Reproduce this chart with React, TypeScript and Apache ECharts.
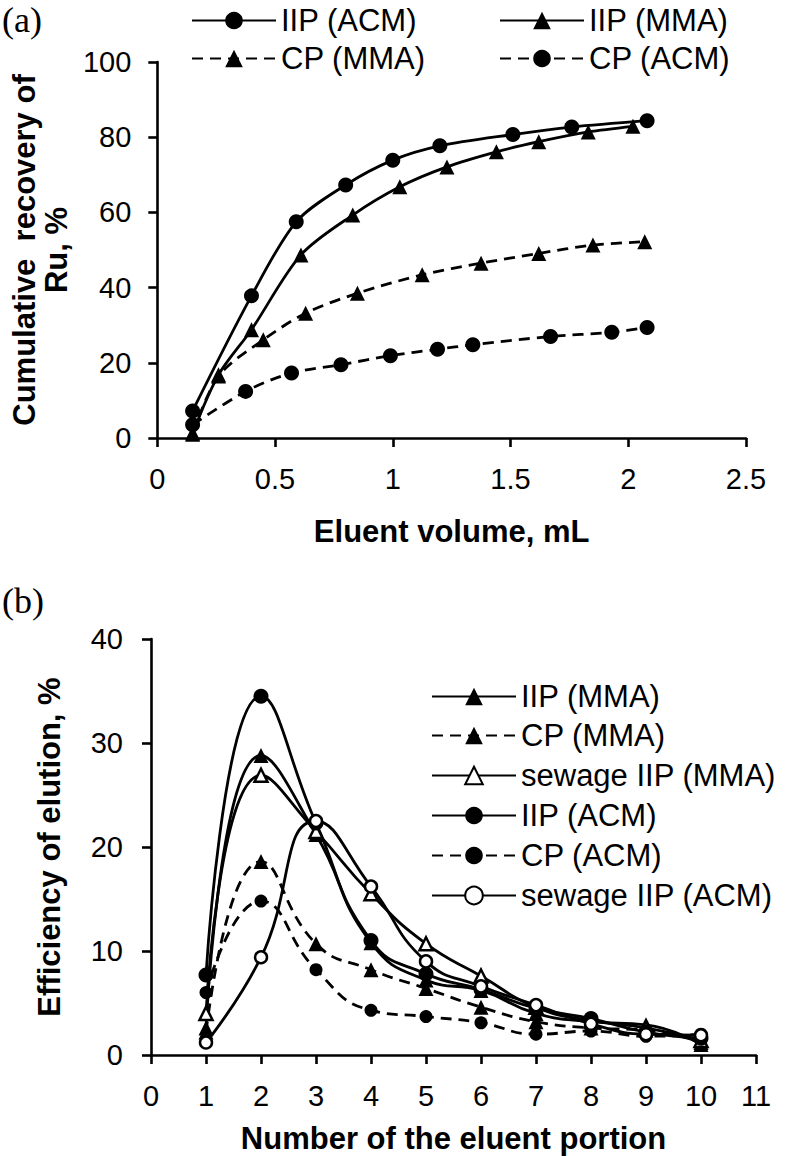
import React, { useEffect, useRef } from "react";
import * as echarts from "echarts";

// ---- Panel (a): cumulative recovery of Ru vs eluent volume ----
const volIIPACM = [0.15, 0.4, 0.59, 0.8, 1.0, 1.2, 1.51, 1.76, 2.08];
const recIIPACM = [7.2, 37.8, 57.5, 67.3, 73.9, 77.7, 80.7, 82.7, 84.4];
const volIIPMMA = [0.15, 0.26, 0.4, 0.61, 0.83, 1.03, 1.23, 1.44, 1.62, 1.83, 2.02];
const recIIPMMA = [1.3, 16.8, 28.8, 48.7, 59.3, 66.8, 72.1, 76.1, 78.8, 81.4, 82.9];
const volCPMMA = [0.15, 0.26, 0.45, 0.63, 0.85, 1.125, 1.375, 1.62, 1.85, 2.07];
const recCPMMA = [1.0, 16.5, 26.1, 33.2, 38.5, 43.4, 46.5, 49.1, 51.3, 52.2];
const volCPACM = [0.15, 0.375, 0.57, 0.78, 0.99, 1.19, 1.34, 1.67, 1.93, 2.08];
const recCPACM = [3.5, 12.4, 17.3, 19.5, 21.9, 23.6, 24.8, 27.0, 28.1, 29.4];

// ---- Panel (b): efficiency of elution vs eluent portion ----
const portions = [1, 2, 3, 4, 5, 6, 7, 8, 9, 10];
const effIIPMMA = [2.6, 28.8, 21.2, 10.8, 7.2, 6.2, 4.0, 3.2, 2.9, 1.0];
const effCPMMA = [2.2, 18.6, 10.7, 8.2, 6.4, 4.6, 3.2, 2.6, 2.4, 1.2];
const effSewIIPMMA = [4.0, 26.9, 21.5, 15.5, 10.7, 7.6, 4.6, 3.3, 2.6, 1.4];
const effIIPACM = [7.7, 34.5, 22.3, 11.0, 7.8, 6.3, 4.5, 3.5, 2.2, 1.6];
const effCPACM = [6.0, 14.8, 8.2, 4.3, 3.7, 3.1, 2.0, 2.3, 1.8, 2.0];
const effSewIIPACM = [1.2, 9.4, 22.5, 16.2, 9.0, 6.6, 4.8, 3.0, 2.0, 1.9];

const xTicksA = [0, 0.5, 1, 1.5, 2, 2.5];
const yTicksA = [0, 20, 40, 60, 80, 100];
const xTicksB = [0, 1, 2, 3, 4, 5, 6, 7, 8, 9, 10, 11];
const yTicksB = [0, 10, 20, 30, 40];

const FONT = "'Liberation Sans', Arial, Helvetica, sans-serif";
const DASH = [11, 7];
const LW = 2.8;

const zip = (xs: number[], ys: number[]) => xs.map((x, i) => [x, ys[i]]);

function axisBase() {
  return {
    axisLine: { show: true, onZero: false, lineStyle: { color: "#000", width: 2.6 } },
    axisTick: { show: true, inside: false, length: 9, lineStyle: { color: "#000", width: 2.6 } },
    splitLine: { show: false },
    axisLabel: { color: "#000", fontSize: 29, fontFamily: FONT },
  };
}

function lineSeries(
  name: string,
  data: number[][],
  symbol: string,
  size: number,
  dashed: boolean,
  open: boolean,
  idx: number,
  smooth: number
) {
  return {
    name,
    type: "line",
    xAxisIndex: idx,
    yAxisIndex: idx,
    data,
    symbol,
    symbolSize: size,
    smooth,
    showSymbol: true,
    lineStyle: { color: "#000", width: LW, type: dashed ? DASH : "solid" },
    itemStyle: open
      ? { color: "#fff", borderColor: "#000", borderWidth: 2.5 }
      : { color: "#000", borderColor: "#000", borderWidth: 0 },
  };
}

function legendItem(name: string, left: number, top: number) {
  return {
    data: [name],
    left,
    top,
    orient: "horizontal",
    padding: 0,
    itemWidth: 84,
    itemHeight: 22,
    selectedMode: false,
    textStyle: { color: "#000", fontSize: 31, fontFamily: FONT },
  };
}

export default function App() {
  const ref = useRef<HTMLDivElement>(null);
  useEffect(() => {
    if (!ref.current) return;
    const chart = echarts.init(ref.current, undefined, { renderer: "svg" });
    const option: any = {
      animation: false,
      backgroundColor: "#fff",
      textStyle: { fontFamily: FONT, color: "#000" },
      grid: [
        { left: 147, top: 62, width: 599, height: 376 },
        { left: 151, top: 639, width: 605, height: 416 },
      ],
      xAxis: [
        {
          ...axisBase(),
          type: "value",
          gridIndex: 0,
          min: xTicksA[0],
          max: xTicksA[xTicksA.length - 1],
          interval: 0.5,
          name: "Eluent volume, mL",
          nameLocation: "middle",
          nameGap: 78,
          nameTextStyle: { fontSize: 31, fontWeight: "bold", color: "#000", fontFamily: FONT },
          axisLabel: { color: "#000", fontSize: 29, fontFamily: FONT, margin: 26 },
        },
        {
          ...axisBase(),
          type: "value",
          gridIndex: 1,
          min: xTicksB[0],
          max: xTicksB[xTicksB.length - 1],
          interval: 1,
          name: "Number of the eluent portion",
          nameLocation: "middle",
          nameGap: 68,
          nameTextStyle: { fontSize: 31, fontWeight: "bold", color: "#000", fontFamily: FONT },
          axisLabel: { color: "#000", fontSize: 29, fontFamily: FONT, margin: 26 },
        },
      ],
      yAxis: [
        {
          ...axisBase(),
          type: "value",
          gridIndex: 0,
          min: yTicksA[0],
          max: yTicksA[yTicksA.length - 1],
          interval: 20,
          name: "Cumulative  recovery of\nRu, %",
          nameLocation: "middle",
          nameGap: 80,
          nameTextStyle: { fontSize: 31, fontWeight: "bold", color: "#000", fontFamily: FONT, lineHeight: 32, align: "center" },
          axisLabel: { color: "#000", fontSize: 29, fontFamily: FONT, margin: 26 },
        },
        {
          ...axisBase(),
          type: "value",
          gridIndex: 1,
          min: yTicksB[0],
          max: yTicksB[yTicksB.length - 1],
          interval: 10,
          name: "Efficiency of elution, %",
          nameLocation: "middle",
          nameGap: 86,
          nameTextStyle: { fontSize: 31, fontWeight: "bold", color: "#000", fontFamily: FONT },
          axisLabel: { color: "#000", fontSize: 29, fontFamily: FONT, margin: 28 },
        },
      ],
      legend: [
        legendItem("IIP (ACM)", 191, 5),
        legendItem("IIP (MMA)", 499, 5),
        legendItem("CP (MMA)", 191, 43),
        legendItem("CP (ACM)", 499, 43),
        legendItem("IIP (MMA)", 431, 681),
        legendItem("CP (MMA)", 431, 720),
        legendItem("sewage IIP (MMA)", 431, 760),
        legendItem("IIP (ACM)", 431, 800),
        legendItem("CP (ACM)", 431, 840),
        legendItem("sewage IIP (ACM)", 431, 880),
      ],
      graphic: [
        { type: "text", left: 2, top: 2, style: { text: "(a)", font: "36px 'Liberation Serif', 'Times New Roman', serif", fill: "#000" } },
        { type: "text", left: 2, top: 583, style: { text: "(b)", font: "36px 'Liberation Serif', 'Times New Roman', serif", fill: "#000" } },
      ],
      series: [
        lineSeries("IIP (ACM)", zip(volIIPACM, recIIPACM), "circle", 15, false, false, 0, 0.3),
        lineSeries("IIP (MMA)", zip(volIIPMMA, recIIPMMA), "triangle", 15, false, false, 0, 0.3),
        lineSeries("CP (MMA)", zip(volCPMMA, recCPMMA), "triangle", 15, true, false, 0, 0.3),
        lineSeries("CP (ACM)", zip(volCPACM, recCPACM), "circle", 15, true, false, 0, 0.3),
        lineSeries("IIP (MMA)", zip(portions, effIIPMMA), "triangle", 15, false, false, 1, 0.5),
        lineSeries("CP (MMA)", zip(portions, effCPMMA), "triangle", 15, true, false, 1, 0.5),
        lineSeries("sewage IIP (MMA)", zip(portions, effSewIIPMMA), "triangle", 13, false, true, 1, 0.5),
        lineSeries("IIP (ACM)", zip(portions, effIIPACM), "circle", 15, false, false, 1, 0.5),
        lineSeries("CP (ACM)", zip(portions, effCPACM), "circle", 13, true, false, 1, 0.5),
        lineSeries("sewage IIP (ACM)", zip(portions, effSewIIPACM), "circle", 12, false, true, 1, 0.5),
      ],
    };
    chart.setOption(option);
    return () => chart.dispose();
  }, []);
  return (
    <div
      ref={ref}
      style={{ position: "fixed", left: 0, top: 0, width: 786, height: 1156, background: "#fff" }}
    />
  );
}
